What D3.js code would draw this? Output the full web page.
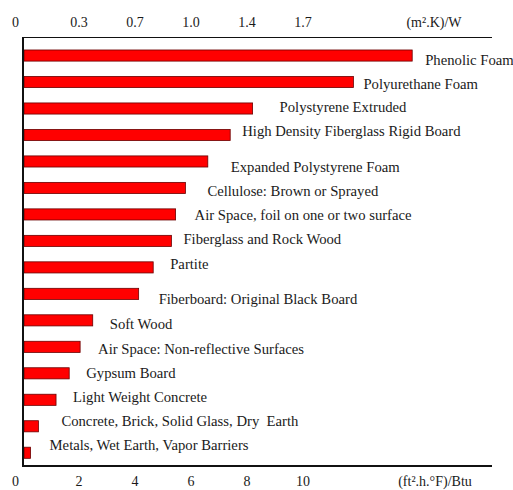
<!DOCTYPE html>
<html>
<head>
<meta charset="utf-8">
<script src="https://cdn.jsdelivr.net/npm/d3@7"></script>
<style>
  body { margin: 0; background: #fff; }
</style>
</head>
<body>
<div class="viz-container"></div>
<script>
const materials = [
    "Phenolic Foam",
    "Polyurethane Foam",
    "Polystyrene Extruded",
    "High Density Fiberglass Rigid Board",
    "Expanded Polystyrene Foam",
    "Cellulose: Brown or Sprayed",
    "Air Space, foil on one or two surface",
    "Fiberglass and Rock Wood",
    "Partite",
    "Fiberboard: Original Black Board",
    "Soft Wood",
    "Air Space: Non-reflective Surfaces",
    "Gypsum Board",
    "Light Weight Concrete",
    "Concrete, Brick, Solid Glass, Dry  Earth",
    "Metals, Wet Earth, Vapor Barriers"
];

// R-value per inch, (ft².h.°F)/Btu
const rValues = [13.9, 11.8, 8.2, 7.4, 6.6, 5.8, 5.45, 5.3, 4.65, 4.13, 2.49, 2.04, 1.65, 1.18, 0.55, 0.27];

const imperialTicks = [0, 2, 4, 6, 8, 10];
const metricTickLabels = ["0", "0.3", "0.7", "1.0", "1.4", "1.7"];

// label placement nudges [dx, dy] from bar end / bar centre, as in the scan
const labelNudge = [
    [13, 9.5], [10, 7], [27, 3.7], [12, 1], [23, 10.7], [22, 8.3], [19, 6], [12, 3],
    [17, 1.3], [20, 10.5], [17, 8.3], [18, 6.7], [17, 4.7], [17, 2], [23, 0], [19, -3]
];

const width = 513;
const height = 490;
const serif = "'Liberation Serif', 'Times New Roman', Times, serif";

const svg = d3.select(".viz-container")
              .append("svg")
              .attr("width", width)
              .attr("height", height)
              .style("font-family", serif);

const x = d3.scaleLinear()
            .domain([0, 16.75])
            .range([23, 492]);

const y = d3.scaleBand()
            .domain(materials)
            .range([42.3, 466])
            .paddingInner(0.58)
            .paddingOuter(0.29);

// bars
svg.selectAll("rect.bar")
   .data(materials)
   .enter()
   .append("rect")
   .attr("class", "bar")
   .attr("x", x(0) + 1)
   .attr("y", d => y(d))
   .attr("width", (d, i) => x(rValues[i]) - x(0) - 1)
   .attr("height", y.bandwidth())
   .attr("fill", "#ff0000")
   .attr("stroke", "#6a0000")
   .attr("stroke-width", 0.8);

// labels
svg.selectAll("text.label")
   .data(materials)
   .enter()
   .append("text")
   .attr("class", "label")
   .attr("x", (d, i) => x(rValues[i]) + labelNudge[i][0])
   .attr("y", (d, i) => y(d) + y.bandwidth() / 2 + labelNudge[i][1])
   .attr("fill", "#1a1a1a")
   .style("font-size", "14.7px")
   .style("white-space", "pre")
   .text(d => d);

// frame lines
svg.append("line")
   .attr("x1", x(0)).attr("x2", x.range()[1])
   .attr("y1", 37.5).attr("y2", 37.5)
   .attr("stroke", "#111")
   .attr("stroke-width", 1.2);

svg.append("line")
   .attr("x1", x(0) - 1).attr("x2", x.range()[1])
   .attr("y1", 466).attr("y2", 466)
   .attr("stroke", "#111")
   .attr("stroke-width", 2);

svg.append("line")
   .attr("x1", x(0)).attr("x2", x(0))
   .attr("y1", 37).attr("y2", 467)
   .attr("stroke", "#111")
   .attr("stroke-width", 2);

// bottom tick labels
svg.selectAll("text.btick")
   .data(imperialTicks)
   .enter()
   .append("text")
   .attr("class", "btick")
   .attr("x", d => d === 0 ? x(d) - 4 : x(d))
   .attr("y", 486)
   .attr("text-anchor", d => d === 0 ? "end" : "middle")
   .attr("fill", "#1a1a1a")
   .style("font-size", "14px")
   .text(d => d);

// top tick labels
svg.selectAll("text.ttick")
   .data(metricTickLabels)
   .enter()
   .append("text")
   .attr("class", "ttick")
   .attr("x", (d, i) => i === 0 ? x(imperialTicks[i]) - 4 : x(imperialTicks[i]))
   .attr("y", 27)
   .attr("text-anchor", (d, i) => i === 0 ? "end" : "middle")
   .attr("fill", "#1a1a1a")
   .style("font-size", "14px")
   .text(d => d);

svg.append("text")
   .attr("x", 434)
   .attr("y", 27)
   .attr("text-anchor", "middle")
   .attr("fill", "#1a1a1a")
   .style("font-size", "14px")
   .text("(m².K)/W");

svg.append("text")
   .attr("x", 435)
   .attr("y", 486)
   .attr("text-anchor", "middle")
   .attr("fill", "#1a1a1a")
   .style("font-size", "14px")
   .text("(ft².h.°F)/Btu");
</script>
</body>
</html>
